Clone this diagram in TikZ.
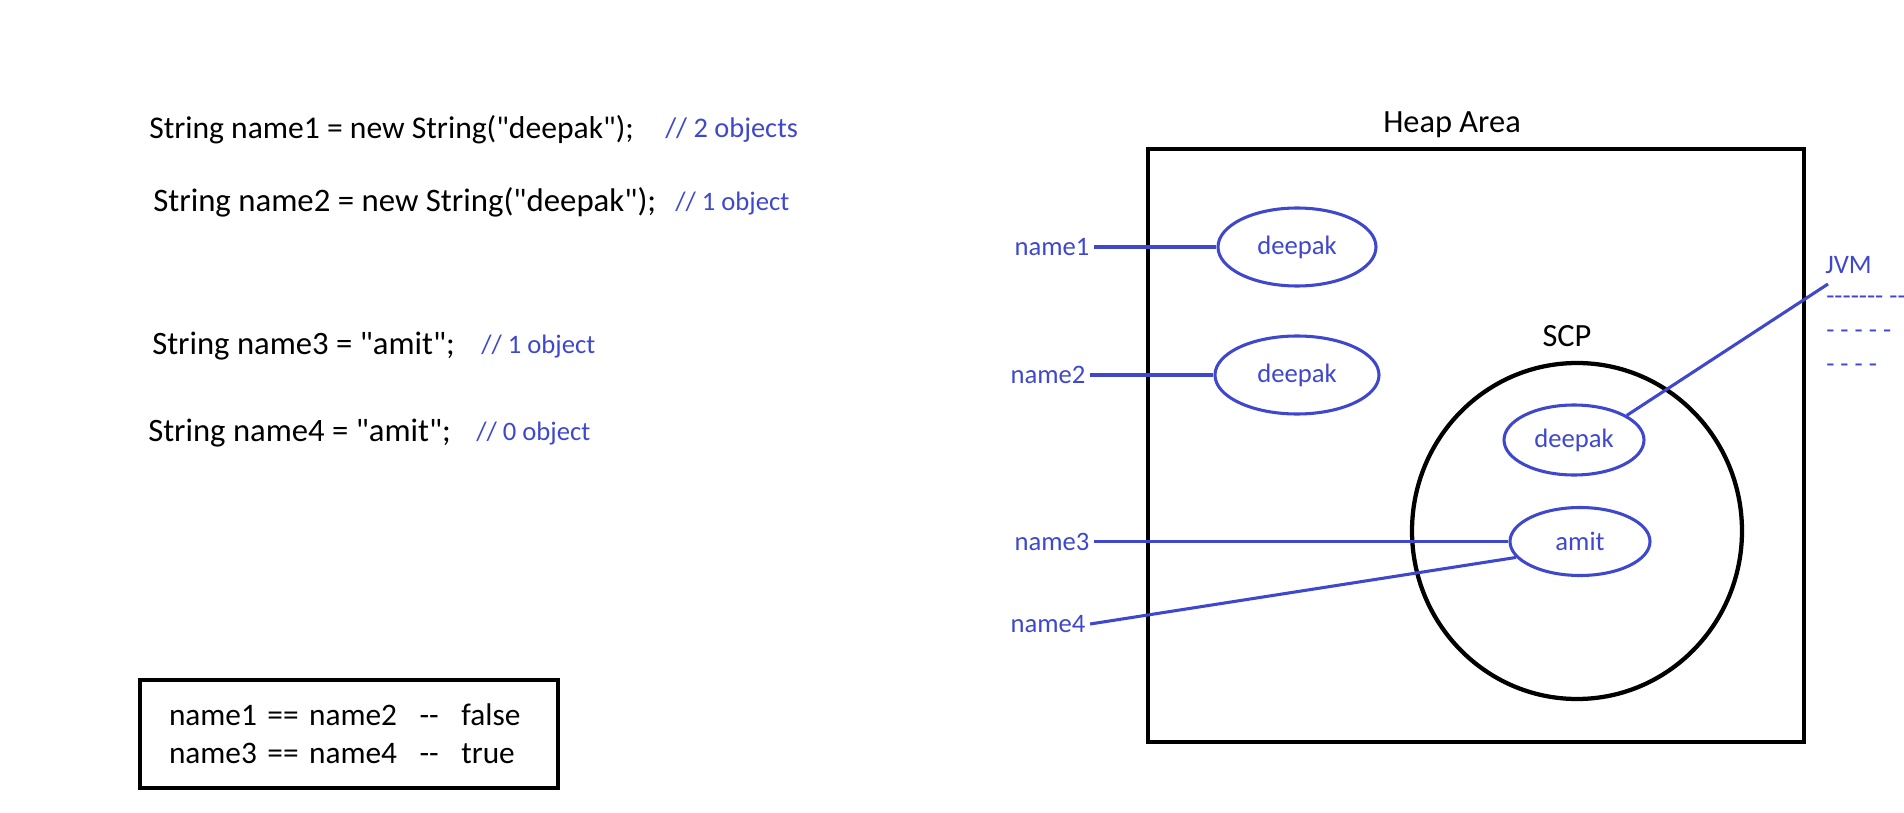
\documentclass[tikz,border=0pt]{standalone}
\usepackage{fontspec}
\setmainfont{Carlito}[Ligatures=TeXOff]
\usepackage{tikz}
\usetikzlibrary{shapes.geometric, positioning}
\definecolor{paintblue}{RGB}{63,72,204}
\tikzstyle{code} = [anchor=base west, inner sep=0pt, font=\fontsize{24.5}{29}\selectfont]
\tikzstyle{remark} = [anchor=base west, inner sep=0pt, text=paintblue, font=\fontsize{20}{24}\selectfont]
\tikzstyle{title} = [anchor=base, inner sep=0pt, font=\fontsize{24.3}{29}\selectfont]
\tikzstyle{refname} = [text=paintblue, font=\fontsize{20}{24}\selectfont]
\tikzstyle{strobj} = [ellipse, draw=paintblue, line width=2.3pt, text=paintblue, inner sep=0pt, font=\fontsize{20}{24}\selectfont]
\tikzstyle{area} = [draw=black, line width=3.6pt, inner sep=0pt]
\tikzstyle{link} = [draw=paintblue, line width=2.3pt]

\begin{document}
\begin{tikzpicture}[x=0.75pt, y=-0.75pt]

  \useasboundingbox (0,0) rectangle (1904,813);

  \node (code1) [code, font=\fontsize{23.7}{29}\selectfont] at (149,139) {String name1 = new String("deepak");};
  \node (rem1) [remark, font=\fontsize{21.3}{25}\selectfont] at (665,138) {// 2 objects};
  \node (code2) [code, font=\fontsize{24.6}{29}\selectfont] at (153,212) {String name2 = new String("deepak");};
  \node (rem2) [remark] at (675,211) {// 1 object};
  \node (code3) [code] at (152,354) {String name3 = "amit";};
  \node (rem3) [remark] at (481,353) {// 1 object};
  \node (code4) [code] at (148,441) {String name4 = "amit";};
  \node (rem4) [remark] at (476,440) {// 0 object};

  \node (result) [area, text width=270pt, inner xsep=21.75pt, minimum height=81pt, align=left,
    font=\fontsize{23.5}{28.5}\selectfont] at (349,734)
    {name1 == name2\hspace{0.72em}--\hspace{0.72em}false\\name3 == name4\hspace{0.72em}--\hspace{0.72em}true};

  \node (heap) [area, minimum width=492pt, minimum height=444.75pt] at (1476,445.5) {};
  \node (heaplabel) [title] at (1452,133) {Heap Area};
  \node (scp) [area, ellipse, line width=3.2pt, minimum width=247.5pt, minimum height=252pt] at (1577,531) {};
  \node (scplabel) [title] at (1567,346) {SCP};

  \node (obj1) [strobj, minimum width=118.5pt, minimum height=58.5pt] at (1297,247) {deepak};
  \node (obj2) [strobj, minimum width=123pt, minimum height=58.5pt] at (1297,375) {deepak};
  \node (pool1) [strobj, minimum width=105pt, minimum height=52.5pt] at (1574,440) {deepak};
  \node (pool2) [strobj, minimum width=105pt, minimum height=51pt] at (1580,541.5) {amit};

  \node (n1) [refname] at (1052,247) {name1};
  \node (n2) [refname] at (1048,375) {name2};
  \node (n3) [refname] at (1052,541.5) {name3};
  \node (n4) [refname] at (1048,624) {name4};

  \node (jvm) [remark] at (1825,273) {JVM};
  \coordinate (jvmtip) at (1828,284);
  \node (dash1) [remark] at (1826,305) {------- --};
  \node (dash2) [remark] at (1826,338) {- - - - -};
  \node (dash3) [remark] at (1826,372) {- - - -};

  \draw [link] (n1.east) -- (obj1.west);
  \draw [link] (n2.east) -- (obj2.west);
  \draw [link] (n3.east) -- (pool2.west);
  \draw [link] (n4.east) -- (pool2.194);
  \draw [link] (pool1.25) -- (jvmtip);

\end{tikzpicture}
\end{document}
